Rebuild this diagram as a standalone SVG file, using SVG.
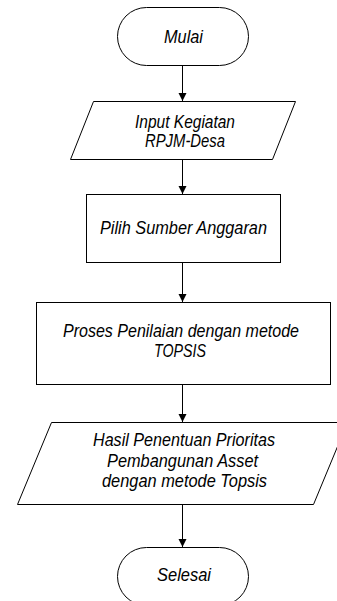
<svg xmlns="http://www.w3.org/2000/svg" width="337" height="601" viewBox="0 0 337 601">
<style>
.s{fill:#fff;stroke:#000;stroke-width:1}
.t{font-family:"Liberation Sans",Arial,sans-serif;font-style:italic;font-size:17.5px;fill:#000;text-anchor:middle}
.c{stroke:#000;stroke-width:1;fill:none}
</style>
<defs>
<marker id="ah" markerWidth="8" markerHeight="10" refX="8" refY="5" orient="auto" markerUnits="userSpaceOnUse" viewBox="0 0 8 10">
<path d="M0,1 L8,5 L0,9 Z" fill="#000"/>
</marker>
</defs>
<rect width="337" height="601" fill="#fff"/>
<g id="connectors">
<line class="c" x1="182.5" y1="65.5" x2="182.5" y2="101" marker-end="url(#ah)"/>
<line class="c" x1="182.5" y1="159.5" x2="182.5" y2="194" marker-end="url(#ah)"/>
<line class="c" x1="182.5" y1="262.5" x2="182.5" y2="302" marker-end="url(#ah)"/>
<line class="c" x1="182.5" y1="384.5" x2="182.5" y2="422" marker-end="url(#ah)"/>
<line class="c" x1="182.5" y1="504.5" x2="182.5" y2="547" marker-end="url(#ah)"/>
</g>
<g id="mulai">
<rect class="s" x="117.5" y="7.5" width="131" height="58" rx="29" ry="29"/>
<text class="t" x="183.5" y="43" textLength="39" lengthAdjust="spacingAndGlyphs">Mulai</text>
</g>
<g id="input">
<polygon class="s" points="93.5,101.5 295.5,101.5 272.5,159.5 70.5,159.5"/>
<text class="t" x="185" y="128" textLength="100" lengthAdjust="spacingAndGlyphs">Input Kegiatan</text>
<text class="t" x="185" y="147" textLength="80" lengthAdjust="spacingAndGlyphs">RPJM-Desa</text>
</g>
<g id="pilih">
<rect class="s" x="86.5" y="194.5" width="194" height="68"/>
<text class="t" x="183.5" y="234" textLength="167" lengthAdjust="spacingAndGlyphs">Pilih Sumber Anggaran</text>
</g>
<g id="proses">
<rect class="s" x="36.5" y="302.5" width="294" height="82"/>
<text class="t" x="181" y="337" textLength="236" lengthAdjust="spacingAndGlyphs">Proses Penilaian dengan metode</text>
<text class="t" x="180" y="357" textLength="52" lengthAdjust="spacingAndGlyphs">TOPSIS</text>
</g>
<g id="hasil">
<polygon class="s" points="51.5,422.5 347.5,422.5 313.5,504.5 17.5,504.5"/>
<text class="t" x="184" y="446" textLength="182" lengthAdjust="spacingAndGlyphs">Hasil Penentuan Prioritas</text>
<text class="t" x="182.5" y="467" textLength="151" lengthAdjust="spacingAndGlyphs">Pembangunan Asset</text>
<text class="t" x="184.5" y="487" textLength="165" lengthAdjust="spacingAndGlyphs">dengan metode Topsis</text>
</g>
<g id="selesai">
<rect class="s" x="117.5" y="547.5" width="131" height="58" rx="29" ry="29"/>
<text class="t" x="184" y="581" textLength="54" lengthAdjust="spacingAndGlyphs">Selesai</text>
</g>
</svg>
